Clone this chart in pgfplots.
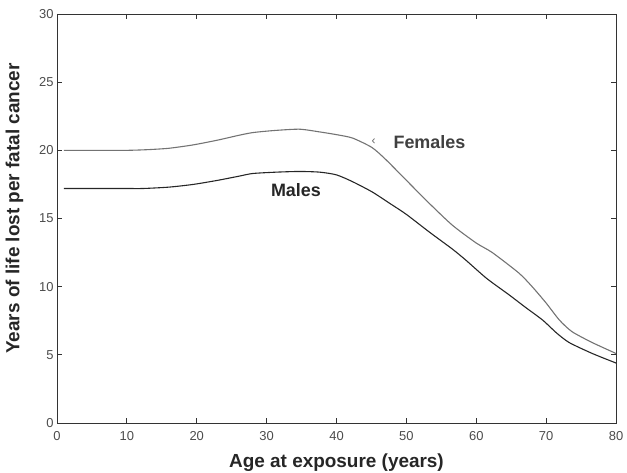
\documentclass[border=0pt]{standalone}
\usepackage{fontspec}
\setmainfont{Liberation Sans}
\usepackage{pgfplots}
\pgfplotsset{compat=1.18}
\begin{document}
\begin{tikzpicture}
\begin{axis}[name=ax,
  scale only axis, width=559bp, height=409bp,
  xmin=0, xmax=80, ymin=0, ymax=30,
  xtick={0,10,...,80}, ytick={0,5,...,30},
  tick align=inside, major tick length=5bp,
  axis line style={black!80, line width=0.9pt},
  every tick/.style={black!80, line width=0.9pt},
  tick label style={font=\fontsize{13}{14}\selectfont, text=black!70},
  xticklabel style={yshift=-5bp},
  /pgf/number format/assume math mode=true,
  xlabel={\bfseries Age at exposure (years)},
  ylabel={\bfseries Years of life lost per fatal cancer},
  label style={font=\fontsize{19}{21}\selectfont, text=black!85},
  xlabel style={yshift=-6bp},
  ylabel style={yshift=9bp, xshift=10bp},
  clip=false,
]
\addplot[black!55, line width=1.1pt, smooth, tension=0.4] coordinates {
(1,20.0) (5,20.0) (10,20.0) (13,20.05) (16,20.15) (19.5,20.4) (23,20.75) (26,21.1) (28,21.3) (31,21.45) (34.7,21.55) (37.6,21.35) (40,21.15) (42.3,20.9) (45.1,20.2) (47.1,19.3) (50,17.8) (53.3,16.1) (56.6,14.5) (60,13.2) (62.3,12.5) (66.1,11.0) (68,10.0) (70,8.8) (71.9,7.55) (73.7,6.7) (76.6,5.9) (80,5.1)
};
\addplot[black!85, line width=1.1pt, smooth, tension=0.4] coordinates {
(1,17.2) (5,17.2) (10,17.2) (12.3,17.2) (16,17.3) (19.5,17.5) (23,17.8) (26,18.1) (28,18.3) (31.4,18.4) (34.7,18.45) (37.6,18.4) (40,18.2) (42.3,17.7) (45.1,16.95) (47.5,16.15) (50,15.3) (53.3,14.0) (56.6,12.75) (58.5,11.95) (61.5,10.6) (64.7,9.4) (67,8.5) (69.5,7.55) (71.5,6.6) (73.3,5.9) (76.6,5.1) (80,4.4)
};
\node[font=\fontsize{18}{20}\selectfont\bfseries, text=black!75] at (axis cs:53.3,20.6) {Females};
\node[font=\fontsize{12}{14}\selectfont, text=black!60] at (axis cs:45.3,20.6) {‹};
\node[font=\fontsize{18}{20}\selectfont\bfseries, text=black!85] at (axis cs:34.2,17.05) {Males};
\end{axis}
\pgfresetboundingbox
\path ([shift={(-57bp,-50bp)}]ax.south west) rectangle ([shift={(11bp,14bp)}]ax.north east);
\end{tikzpicture}
\end{document}
